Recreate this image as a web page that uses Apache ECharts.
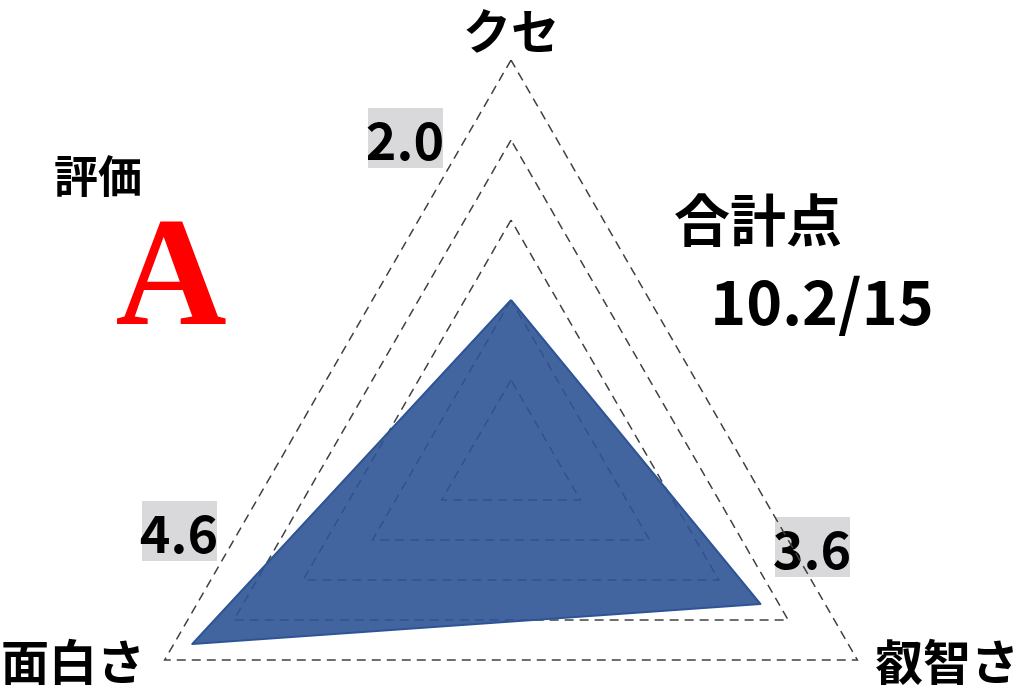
<!DOCTYPE html>
<html>
<head>
<meta charset="utf-8">
<script src="https://cdn.jsdelivr.net/npm/echarts@6/dist/echarts.min.js"></script>
<style>
html,body{margin:0;padding:0;background:#fff;}
#chart{width:1024px;height:694px;}
</style>
</head>
<body>
<div id="chart"></div>
<script>
// Data
const categories = ['クセ', '面白さ', '叡智さ'];
const values = [2.0, 4.6, 3.6];
const maxValue = 5;
const gradeLabel = '評価';
const grade = 'A';
const totalLabel = '合計点';

const total = values.reduce((a, b) => a + b, 0);
const maxTotal = maxValue * categories.length;

const chart = echarts.init(document.getElementById('chart'));

const JP = '"Noto Sans CJK JP", "Noto Sans", sans-serif';
const NUM = '"Noto Sans CJK JP", "Liberation Sans", Arial, sans-serif';

// label layout (positions only)
const catPos = [
  { x: 511, y: 31 },
  { x: 73, y: 662 },
  { x: 947, y: 662 }
];
const valPos = [
  { x: 405, y: 138 },
  { x: 179, y: 531 },
  { x: 812, y: 547 }
];

const graphics = [];
categories.forEach((c, i) => {
  graphics.push({
    type: 'text', x: catPos[i].x, y: catPos[i].y,
    style: { text: c, font: 'bold 48px ' + JP, fill: '#000', textAlign: 'center', textVerticalAlign: 'middle' }
  });
});
values.forEach((v, i) => {
  graphics.push({
    type: 'rect', shape: { x: valPos[i].x - 37, y: valPos[i].y - 30, width: 75, height: 60 },
    style: { fill: '#d9d9dc' }
  });
  graphics.push({
    type: 'text', x: valPos[i].x, y: valPos[i].y + 2,
    style: { text: v.toFixed(1), font: 'bold 52px ' + NUM, fill: '#000', textAlign: 'center', textVerticalAlign: 'middle' }
  });
});
graphics.push({
  type: 'text', x: 98, y: 176,
  style: { text: gradeLabel, font: 'bold 44px ' + JP, fill: '#000', textAlign: 'center', textVerticalAlign: 'middle' }
});
graphics.push({
  type: 'text', x: 171, y: 284,
  style: { text: grade, font: 'bold 154px "Liberation Serif", "DejaVu Serif", serif', fill: '#ff0000', textAlign: 'center', textVerticalAlign: 'middle' }
});
graphics.push({
  type: 'text', x: 758, y: 220,
  style: { text: totalLabel, font: 'bold 56px ' + JP, fill: '#000', textAlign: 'center', textVerticalAlign: 'middle' }
});
graphics.push({
  type: 'text', x: 822, y: 302,
  style: { text: total.toFixed(1) + '/' + maxTotal, font: 'bold 61px ' + NUM, fill: '#000', textAlign: 'center', textVerticalAlign: 'middle' }
});

chart.setOption({
  animation: false,
  backgroundColor: '#ffffff',
  radar: {
    center: [511, 460],
    radius: 400,
    startAngle: 90,
    shape: 'polygon',
    splitNumber: 5,
    indicator: categories.map(c => ({ name: c, min: 0, max: maxValue })),
    axisName: { show: false },
    axisLine: { show: false },
    axisTick: { show: false },
    axisLabel: { show: false },
    splitArea: { show: false },
    splitLine: { lineStyle: { color: '#404040', width: 1.5, type: [9, 6] } }
  },
  series: [{
    type: 'radar',
    symbol: 'none',
    data: [{ value: values }],
    lineStyle: { color: '#2f5597', width: 2 },
    areaStyle: { color: 'rgb(45,84,150)', opacity: 0.9 }
  }],
  graphic: graphics
});
</script>
</body>
</html>
